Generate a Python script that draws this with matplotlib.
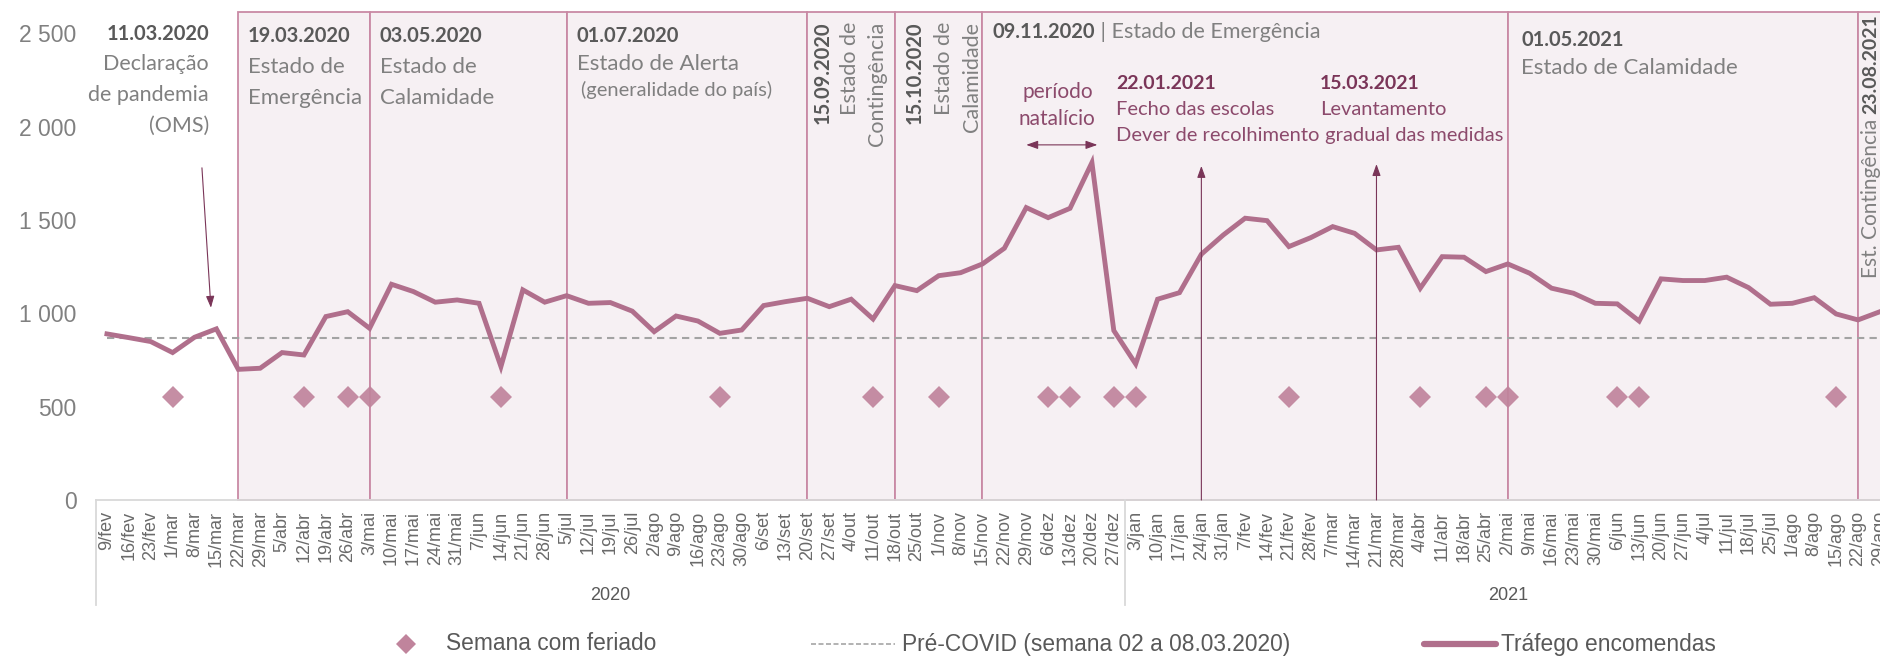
import matplotlib
matplotlib.use('Agg')
import matplotlib.pyplot as plt
from matplotlib.patches import Rectangle
from matplotlib.lines import Line2D
import matplotlib.transforms as mtransforms

# ---------------- data ----------------
weeks_2020 = ['9/fev', '16/fev', '23/fev', '1/mar', '8/mar', '15/mar', '22/mar', '29/mar',
              '5/abr', '12/abr', '19/abr', '26/abr', '3/mai', '10/mai', '17/mai', '24/mai',
              '31/mai', '7/jun', '14/jun', '21/jun', '28/jun', '5/jul', '12/jul', '19/jul',
              '26/jul', '2/ago', '9/ago', '16/ago', '23/ago', '30/ago', '6/set', '13/set',
              '20/set', '27/set', '4/out', '11/out', '18/out', '25/out', '1/nov', '8/nov',
              '15/nov', '22/nov', '29/nov', '6/dez', '13/dez', '20/dez', '27/dez']
weeks_2021 = ['3/jan', '10/jan', '17/jan', '24/jan', '31/jan', '7/fev', '14/fev', '21/fev',
              '28/fev', '7/mar', '14/mar', '21/mar', '28/mar', '4/abr', '11/abr', '18/abr',
              '25/abr', '2/mai', '9/mai', '16/mai', '23/mai', '30/mai', '6/jun', '13/jun',
              '20/jun', '27/jun', '4/jul', '11/jul', '18/jul', '25/jul', '1/ago', '8/ago',
              '15/ago', '22/ago', '29/ago']
years = ['2020', '2021']

traffic = [890, 870, 849, 790, 872, 917, 700, 706, 790, 777, 983, 1009, 920, 1156, 1117,
           1060, 1072, 1054, 715, 1126, 1060, 1095, 1054, 1058, 1012, 902, 986, 959, 893,
           911, 1042, 1063, 1081, 1036, 1076, 970, 1149, 1122, 1202, 1218, 1265, 1349, 1567,
           1513, 1563, 1808, 908, 729, 1076, 1111, 1317, 1420, 1510, 1497, 1358, 1406, 1465,
           1429, 1340, 1354, 1135, 1304, 1301, 1224, 1265, 1215, 1135, 1108, 1054, 1051, 959,
           1185, 1176, 1176, 1194, 1138, 1049, 1054, 1084, 997, 965, 1009]

holiday_weeks = ['1/mar', '12/abr', '26/abr', '3/mai', '14/jun', '23/ago', '11/out', '1/nov',
                 '6/dez', '13/dez', '27/dez', '3/jan', '21/fev', '4/abr', '25/abr', '2/mai',
                 '6/jun', '13/jun', '15/ago']
holiday_level = 550
pre_covid = 867

period_starts = ['22/mar', '3/mai', '5/jul', '20/set', '18/out', '15/nov', '2/mai', '22/ago']
period_ends = ['3/mai', '5/jul', '20/set', '18/out', '15/nov', '2/mai', '22/ago', None]

yticks = [0, 500, 1000, 1500, 2000, 2500]

weeks = weeks_2020 + weeks_2021
n = len(weeks)
idx = {w: i for i, w in enumerate(weeks)}
xs = list(range(n))

# ---------------- style ----------------
W, H = 1881, 658
LINE_C = '#b06f8c'
DIAM_C = '#c0849c'
BOX_FILL = '#f6f0f3'
BOX_EDGE = '#c98aa5'
ARROW_C = '#7a3558'
GRAY_T = '#808080'
DARK_T = '#595959'
PURP_T = '#8c4a6c'
PURP_B = '#7a3558'
SANS = ['Liberation Sans', 'DejaVu Sans']
CAL = ['Lato', 'DejaVu Sans']

fig = plt.figure(figsize=(W / 100, H / 100), dpi=100)
ax = fig.add_axes([96 / W, (H - 500) / H, (W - 96) / W, (500 - 12) / H])
YTOP = 2615
ax.set_xlim(-0.5, 81.05)
ax.set_ylim(0, YTOP)

# periods
for s, e in zip(period_starts, period_ends):
    x0 = idx[s]
    x1 = idx[e] if e is not None else n + 1
    ax.add_patch(Rectangle((x0, 0), x1 - x0, YTOP, facecolor=BOX_FILL, edgecolor=BOX_EDGE,
                           lw=1.3, zorder=0.5, clip_on=False))

# pre-covid
ax.hlines(pre_covid, 0, n - 1, colors='#a3a3a3', linestyles=(0, (3.5, 2.5)), lw=1.5, zorder=1)

# holidays
hx = [idx[w] for w in holiday_weeks]
ax.plot(hx, [holiday_level] * len(hx), linestyle='none', marker='D', ms=11,
        color=DIAM_C, alpha=0.92, markeredgewidth=0, zorder=2)

# traffic line
ax.plot(xs, traffic, color=LINE_C, lw=3.5, solid_joinstyle='miter', zorder=3)

# axes styling
for sp in ['left', 'right', 'top']:
    ax.spines[sp].set_visible(False)
ax.spines['bottom'].set_color('#d9d9d9')
ax.spines['bottom'].set_linewidth(1.3)
ax.set_yticks(yticks)
ax.set_yticklabels([f'{v:,}'.replace(',', ' ') for v in yticks], fontsize=16.5,
                   color=GRAY_T, family=SANS)
ax.tick_params(axis='y', length=0, pad=14)
ax.set_xticks(xs)
ax.set_xticklabels(weeks, rotation=90, fontsize=13, color='#6a6a6a', family=SANS)
ax.tick_params(axis='x', length=0, pad=8)

# year separators and labels
btrans = mtransforms.blended_transform_factory(ax.transData, ax.transAxes)
ybot = -(605 - 500) / 488
for xv in [-0.5, len(weeks_2020) - 0.5]:
    ax.add_line(Line2D([xv, xv], [0, ybot], transform=btrans, color='#d9d9d9', lw=1.3,
                       clip_on=False))
ylab = -(595 - 500) / 488
ax.text((len(weeks_2020) - 1) / 2, ylab, years[0], transform=btrans, ha='center', va='center',
        fontsize=13, color=DARK_T, family=SANS)
ax.text(len(weeks_2020) - 0.5 + len(weeks_2021) / 2, ylab, years[1], transform=btrans,
        ha='center', va='center', fontsize=13, color=DARK_T, family=SANS)

# ---------------- annotations ----------------
def txt(x, y, s, bold=False, color=GRAY_T, size=15.5, ha='left', va='center', rot=0):
    return ax.text(x, y, s, ha=ha, va=va, rotation=rot, fontsize=size, color=color,
                   family=CAL, fontweight='bold' if bold else 'normal', zorder=5,
                   clip_on=False)

# 11.03.2020 pandemic
txt(4.66, 2498, '11.03.2020', bold=True, color=DARK_T, size=14.5, ha='right')
txt(4.66, 2337, 'Declaração', ha='right', size=15.5)
txt(4.66, 2171, 'de pandemia', ha='right', size=15.5)
txt(4.66, 2005, '(OMS)', ha='right', size=15.5)
ax.annotate('', xy=(4.75, 1030), xytext=(4.34, 1780),
            arrowprops=dict(arrowstyle='-|>,head_length=0.7,head_width=0.25', color=ARROW_C,
                            lw=0.8, shrinkA=0, shrinkB=0), zorder=5)

# box texts
b = idx['22/mar'] + 0.44
txt(b, 2487, '19.03.2020', bold=True, color=DARK_T, size=14.5)
txt(b, 2321, 'Estado de', size=16)
txt(b, 2155, 'Emergência', size=16)
b = idx['3/mai'] + 0.47
txt(b, 2487, '03.05.2020', bold=True, color=DARK_T, size=14.5)
txt(b, 2321, 'Estado de', size=16)
txt(b, 2155, 'Calamidade', size=16)
b = idx['5/jul'] + 0.46
txt(b, 2487, '01.07.2020', bold=True, color=DARK_T, size=14.5)
txt(b, 2337, 'Estado de Alerta', size=16)
txt(b + 0.2, 2198, '(generalidade do país)', size=14.5)

# rotated boxes
ytop_r = 2562
b = idx['20/set']
txt(b + 0.7, ytop_r, '15.09.2020', bold=True, color=DARK_T, size=14.5, ha='center', va='top', rot=90)
txt(b + 1.97, ytop_r, 'Estado de', ha='center', va='top', rot=90)
txt(b + 3.2, ytop_r, 'Contingência', ha='center', va='top', rot=90)
b = idx['18/out']
txt(b + 0.9, ytop_r, '15.10.2020', bold=True, color=DARK_T, size=14.5, ha='center', va='top', rot=90)
txt(b + 2.26, ytop_r, 'Estado de', ha='center', va='top', rot=90)
txt(b + 3.54, ytop_r, 'Calamidade', ha='center', va='top', rot=90)

# 09.11.2020 header
t1 = txt(idx['15/nov'] + 0.46, 2476, '09.11.2020', bold=True, color=DARK_T, size=14.5,
         va='baseline')
ax.annotate(' | Estado de Emergência', xy=(1, 0), xycoords=t1, va='bottom', ha='left',
            fontsize=15.5, color=GRAY_T, family=CAL)

# natal period
txt(idx['6/dez'] + 0.42, 2187, 'período', color=PURP_T, size=15, ha='center')
txt(idx['6/dez'] + 0.42, 2042, 'natalício', color=PURP_T, size=15, ha='center')
ax.annotate('', xy=(idx['20/dez'] + 0.25, 1903), xytext=(idx['29/nov'], 1903),
            arrowprops=dict(arrowstyle='<|-|>,head_length=0.7,head_width=0.25',
                            color=ARROW_C, lw=0.8, shrinkA=0, shrinkB=0), zorder=5)

# 22.01.2021
b = idx['27/dez'] + 0.12
txt(b, 2230, '22.01.2021', bold=True, color=PURP_B, size=14)
txt(b, 2090, 'Fecho das escolas', color=PURP_T, size=14.5)
txt(b, 1951, 'Dever de recolhimento', color=PURP_T, size=14.5)
ax.annotate('', xy=(idx['24/jan'], 1790), xytext=(idx['24/jan'], 0),
            arrowprops=dict(arrowstyle='-|>,head_length=0.7,head_width=0.25', color=ARROW_C,
                            lw=0.8, shrinkA=0, shrinkB=0), zorder=5)

# 15.03.2021
b = idx['28/fev'] + 0.43
txt(b, 2230, '15.03.2021', bold=True, color=PURP_B, size=14)
txt(b, 2090, 'Levantamento', color=PURP_T, size=14.5)
txt(b, 1951, ' gradual das medidas', color=PURP_T, size=14.5)
ax.annotate('', xy=(idx['21/mar'], 1800), xytext=(idx['21/mar'], 0),
            arrowprops=dict(arrowstyle='-|>,head_length=0.7,head_width=0.25', color=ARROW_C,
                            lw=0.8, shrinkA=0, shrinkB=0), zorder=5)

# 01.05.2021
b = idx['2/mai'] + 0.62
txt(b, 2466, '01.05.2021', bold=True, color=DARK_T, size=14.5)
txt(b, 2316, 'Estado de Calamidade', size=16)

# 23.08.2021 (at right edge)
t2 = txt(idx['22/ago'] + 0.6, 2605, '23.08.2021', bold=True, color=DARK_T, size=14,
         ha='center', va='top', rot=90)
ax.annotate('Est. Contingência ', xy=(0.5, 0), xycoords=t2, ha='center', va='top',
            rotation=90, fontsize=15, color=GRAY_T, family=CAL)

# ---------------- legend ----------------
def fx(x):
    return x / W

def fy(y):
    return (H - y) / H

LY = 644
fig.add_artist(Line2D([fx(406)], [fy(LY)], marker='D', ms=10, color=DIAM_C, linestyle='none',
                      markeredgewidth=0, transform=fig.transFigure))
fig.text(fx(446), fy(LY), 'Semana com feriado', ha='left', va='center', fontsize=16.4,
         color=DARK_T, family=SANS)
fig.add_artist(Line2D([fx(811), fx(895)], [fy(LY), fy(LY)], color='#a6a6a6', lw=1.2,
                      linestyle=(0, (3, 1.5)), transform=fig.transFigure))
fig.text(fx(902), fy(LY), 'Pré-COVID (semana 02 a 08.03.2020)', ha='left', va='center',
         fontsize=16.4, color=DARK_T, family=SANS)
fig.add_artist(Line2D([fx(1424), fx(1496)], [fy(LY), fy(LY)], color=LINE_C, lw=4.5,
                      solid_capstyle='round', transform=fig.transFigure))
fig.text(fx(1501), fy(LY), 'Tráfego encomendas', ha='left', va='center', fontsize=16.4,
         color=DARK_T, family=SANS)

fig.savefig('out.png', dpi=100, facecolor='white')
